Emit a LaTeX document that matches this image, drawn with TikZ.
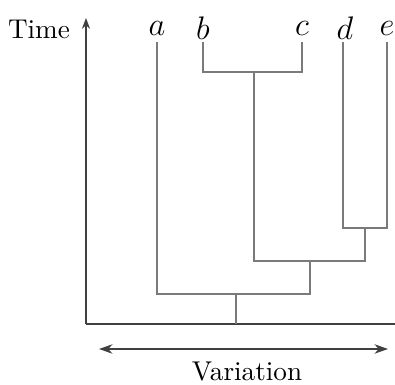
\documentclass[tikz,border=0pt]{standalone}
\usetikzlibrary{arrows.meta}
\begin{document}
\begin{tikzpicture}[x=0.368pt,y=-0.368pt,
    branch/.style={line width=0.95pt,color=black!52},
    axis/.style={line width=0.5pt,color=black!75},
    leaf/.style={font=\large}]
    \useasboundingbox (0,0) rectangle (395,385);

    % labels
    \node (time) at (39,29) {Time};
    \node[leaf] (la) at (157,28) {$a$};
    \node[leaf] (lb) at (203,28) {$b$};
    \node[leaf] (lc) at (302,28) {$c$};
    \node[leaf] (ld) at (345,28) {$d$};
    \node[leaf] (le) at (387,28) {$e$};
    \node (var) at (247,372) {Variation};

    % axes
    \coordinate (o) at (86,324);
    \coordinate (top) at (86,18);
    \coordinate (r) at (395,324);
    \draw[axis,-{Stealth[length=4pt,width=3pt]}] (o) -- (top);
    \draw[axis] (o) -- (r);
    \coordinate (vl) at (99,349);
    \coordinate (vr) at (388,349);
    \draw[axis,{Stealth[length=5pt,width=3.5pt]}-{Stealth[length=5pt,width=3.5pt]}] (vl) -- (vr);

    % tree
    \coordinate (a) at (157,42);
    \coordinate (b) at (203,42);
    \coordinate (c) at (302,42);
    \coordinate (d) at (343,42);
    \coordinate (e) at (387,42);
    \coordinate (bc) at (254,72);
    \coordinate (de) at (365,228);
    \coordinate (bcde) at (310,261);
    \coordinate (root) at (236,294);

    \draw[branch] (b) |- (bc) -| (c);
    \draw[branch] (d) |- (de) -| (e);
    \draw[branch] (bc) |- (bcde) -| (de);
    \draw[branch] (a) |- (root) -| (bcde);
    \draw[branch] (root) -- (root |- o);
\end{tikzpicture}
\end{document}
